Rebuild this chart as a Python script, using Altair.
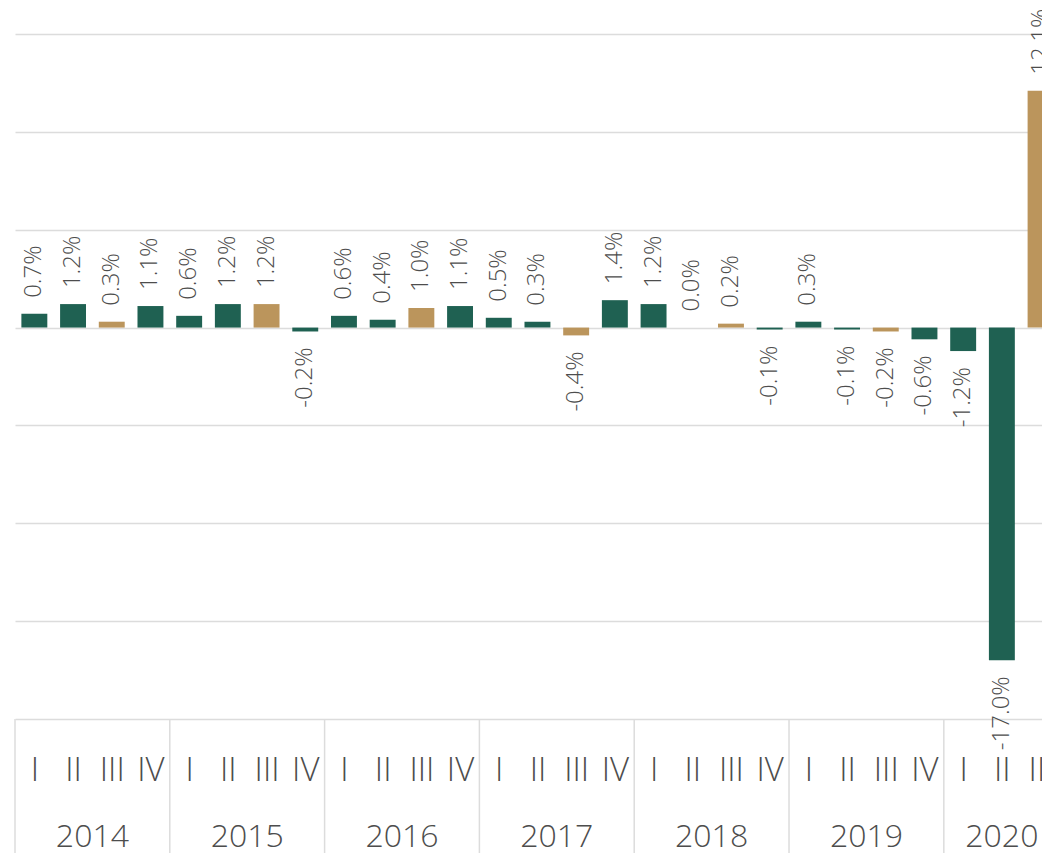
import altair as alt
import pandas as pd

# ---- data ----
years = [2014] * 4 + [2015] * 4 + [2016] * 4 + [2017] * 4 + [2018] * 4 + [2019] * 4 + [2020] * 3
quarters = [1, 2, 3, 4] * 6 + [1, 2, 3]
values = [0.7, 1.2, 0.3, 1.1,
          0.6, 1.2, 1.2, -0.2,
          0.6, 0.4, 1.0, 1.1,
          0.5, 0.3, -0.4, 1.4,
          1.2, 0.0, 0.2, -0.1,
          0.3, -0.1, -0.2, -0.6,
          -1.2, -17.0, 12.1]
roman = ["I", "II", "III", "IV"]
grid_values = [-20, -15, -10, -5, 0, 5, 10, 15]

GREEN = "#1f6152"
TAN = "#bb955c"
GRID = "#dcdcdc"
TEXT = "#4d4d4d"
FONT = "Open Sans"

df = pd.DataFrame({"year": years, "q": quarters, "v": values})
df["idx"] = range(len(df))
df["kind"] = ["q3" if q == 3 else "other" for q in df["q"]]
df["label"] = [f"{v:.1f}%" for v in df["v"]]

ydf = df.groupby("year").agg(center=("idx", "mean"), start=("idx", "min")).reset_index()
ydf["start"] = ydf["start"] - 0.5
ydf["ylab"] = ydf["year"].astype(str)

qlabels = [roman[q - 1] for q in quarters]
label_expr = "[" + ",".join(f"'{r}'" for r in qlabels) + "][datum.value]"

W, H = 1027, 685
BOTTOM = 134
xscale = alt.Scale(domain=[-0.5, 26.037], nice=False, zero=False)
yscale = alt.Scale(domain=[-20, 15], nice=False, zero=False)

xaxis = alt.Axis(values=list(range(len(values))), labelExpr=label_expr,
                 domain=False, ticks=False, grid=False, labelFontSize=33,
                 labelFont=FONT, labelColor=TEXT, labelPadding=51,
                 labelBaseline="middle", labelOverlap=False, labelFlush=False,
                 labelFontWeight=300, title=None)
yaxis = alt.Axis(values=grid_values, grid=True, labels=False, ticks=False,
                 domain=False, gridColor=GRID, gridWidth=1.5, title=None)

base = alt.Chart(df)

bars = base.transform_calculate(
    x0="datum.idx - 0.335", x1="datum.idx + 0.335"
).mark_bar(clip=True).encode(
    x=alt.X("x0:Q", scale=xscale, axis=xaxis, title=None),
    x2="x1:Q",
    y=alt.Y("v:Q", scale=yscale, axis=yaxis, title=None),
    y2=alt.datum(0),
    color=alt.Color("kind:N", scale=alt.Scale(domain=["other", "q3"], range=[GREEN, TAN]),
                    legend=None),
)

pos = base.transform_filter("datum.v >= 0").mark_text(
    angle=270, align="left", baseline="middle", dx=16, fontSize=24,
    font=FONT, color=TEXT, fontWeight=300
).encode(x=alt.X("idx:Q", scale=xscale, axis=xaxis, title=None),
         y=alt.Y("v:Q", scale=yscale, axis=yaxis, title=None),
         text="label:N")

neg = base.transform_filter("datum.v < 0").mark_text(
    angle=270, align="right", baseline="middle", dx=-16, fontSize=24,
    font=FONT, color=TEXT, fontWeight=300
).encode(x=alt.X("idx:Q", scale=xscale, axis=xaxis, title=None),
         y=alt.Y("v:Q", scale=yscale, axis=yaxis, title=None),
         text="label:N")

seps = alt.Chart(ydf).mark_rule(color=GRID, strokeWidth=1.5).encode(
    x=alt.X("start:Q", scale=xscale, axis=xaxis, title=None),
    y=alt.value(H), y2=alt.value(H + BOTTOM),
)

ytext = alt.Chart(ydf).mark_text(
    fontSize=32, font=FONT, color=TEXT, baseline="middle", fontWeight=300
).encode(
    x=alt.X("center:Q", scale=xscale, axis=xaxis, title=None),
    y=alt.value(H + 118),
    text="ylab:N",
)

chart = alt.layer(bars, pos, neg, seps, ytext).properties(
    width=W, height=H,
    padding={"left": 7, "top": 26, "right": 0, "bottom": BOTTOM},
    autosize=alt.AutoSizeParams(type="none"),
).configure(background="white").configure_view(stroke=None)

chart.save("out.html", embed_options={"renderer": "svg", "actions": False})
